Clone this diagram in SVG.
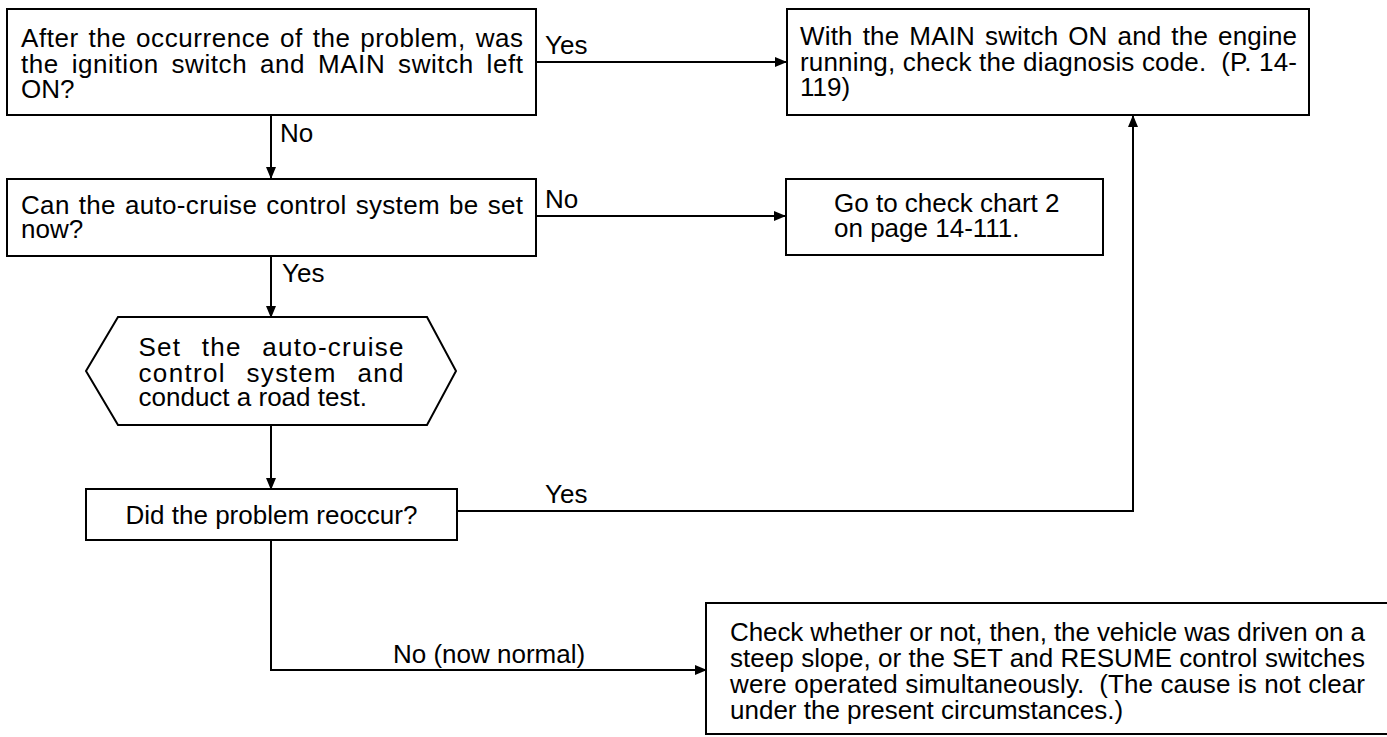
<svg xmlns="http://www.w3.org/2000/svg" width="1387" height="737" viewBox="0 0 1387 737">
<style>
.box{fill:#fff;stroke:#000;stroke-width:2}
.t{font-family:"Liberation Sans",Arial,sans-serif;font-size:26px;fill:#000}
.c{fill:none;stroke:#000;stroke-width:2}
</style>
<defs>
<marker id="ah" markerUnits="userSpaceOnUse" markerWidth="12" markerHeight="10" refX="11" refY="5" orient="auto">
<path d="M0,0 L12,5 L0,10 z" fill="#000"/>
</marker>
</defs>
<rect width="1387" height="737" fill="#fff"/>
<g id="connectors">
<path class="c" d="M536,62 H786" marker-end="url(#ah)"/>
<text class="t" x="545" y="54">Yes</text>
<path class="c" d="M271,115 V178" marker-end="url(#ah)"/>
<text class="t" x="280" y="142">No</text>
<path class="c" d="M536,216 H785" marker-end="url(#ah)"/>
<text class="t" x="545" y="208">No</text>
<path class="c" d="M271,256 V317" marker-end="url(#ah)"/>
<text class="t" x="282" y="282">Yes</text>
<path class="c" d="M271,425 V489" marker-end="url(#ah)"/>
<path class="c" d="M457,511 H1133 V116" marker-end="url(#ah)"/>
<text class="t" x="545" y="503">Yes</text>
<path class="c" d="M271,540 V670 H706" marker-end="url(#ah)"/>
<text class="t" x="393" y="663">No (now normal)</text>
</g>
<g id="n1">
<rect class="box" x="7" y="9" width="529" height="106"/>
<text class="t" x="21" y="47" word-spacing="2" textLength="502" lengthAdjust="spacing">After the occurrence of the problem, was</text>
<text class="t" x="21" y="73" word-spacing="5" textLength="502" lengthAdjust="spacing">the ignition switch and MAIN switch left</text>
<text class="t" x="21" y="98">ON?</text>
</g>
<g id="n2">
<rect class="box" x="787" y="9" width="522" height="106"/>
<text class="t" x="800" y="45" word-spacing="2.5" textLength="497" lengthAdjust="spacing">With the MAIN switch ON and the engine</text>
<text class="t" x="800" y="71" textLength="497" lengthAdjust="spacing">running, check the diagnosis code.&#160; (P. 14-</text>
<text class="t" x="800" y="96">119)</text>
</g>
<g id="n3">
<rect class="box" x="7" y="179" width="529" height="77"/>
<text class="t" x="21" y="214" word-spacing="1.5" textLength="502" lengthAdjust="spacing">Can the auto-cruise control system be set</text>
<text class="t" x="21" y="238">now?</text>
</g>
<g id="n4">
<rect class="box" x="786" y="179" width="317" height="76"/>
<text class="t" x="834" y="212">Go to check chart 2</text>
<text class="t" x="834" y="237">on page 14-111.</text>
</g>
<g id="n5">
<polygon class="box" points="86,371 118,317 427,317 456,371 427,425 118,425"/>
<text class="t" x="138.5" y="356" word-spacing="12" textLength="265" lengthAdjust="spacing">Set the auto-cruise</text>
<text class="t" x="138.5" y="382" word-spacing="12" textLength="265" lengthAdjust="spacing">control system and</text>
<text class="t" x="138.5" y="406">conduct a road test.</text>
</g>
<g id="n6">
<rect class="box" x="86" y="489" width="371" height="51"/>
<text class="t" x="271.5" y="524" text-anchor="middle">Did the problem reoccur?</text>
</g>
<g id="n7">
<rect class="box" x="706" y="603" width="700" height="131"/>
<text class="t" x="730" y="641" textLength="635" lengthAdjust="spacing">Check whether or not, then, the vehicle was driven on a</text>
<text class="t" x="730" y="667" textLength="635" lengthAdjust="spacing">steep slope, or the SET and RESUME control switches</text>
<text class="t" x="730" y="693" textLength="635" lengthAdjust="spacing">were operated simultaneously.&#160; (The cause is not clear</text>
<text class="t" x="730" y="719">under the present circumstances.)</text>
</g>
</svg>
